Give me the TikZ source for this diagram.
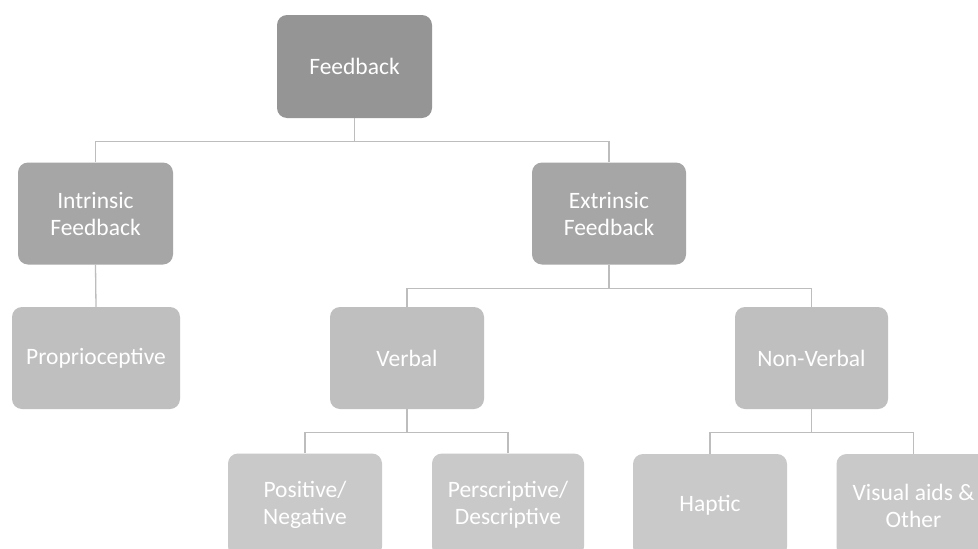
\documentclass[tikz,border=0pt]{standalone}
\usepackage{fontspec}
\setmainfont{Carlito}
\definecolor{greyA}{HTML}{959595}
\definecolor{greyB}{HTML}{A6A6A6}
\definecolor{greyC}{HTML}{BFBFBF}
\definecolor{greyD}{HTML}{C9C9C9}
\definecolor{linegrey}{HTML}{BDBDBD}
\begin{document}
\begin{tikzpicture}[x=1pt,y=-1pt,
    box/.style={rounded corners=10pt, text=white, align=center,
        minimum width=154pt, minimum height=102pt, inner sep=0pt,
        font=\fontsize{23.5}{27}\selectfont},
    conn/.style={draw=linegrey, line width=1.3pt}]
    % Frame
    \clip (0,0) rectangle (978,549);
    \fill[white] (0,0) rectangle (978,549);

    % Boxes
    \node[box, fill=greyA, minimum width=155pt, minimum height=103pt] (fb) at (354.5,66.5) {Feedback};
    \node[box, fill=greyB, minimum width=155pt] (intr) at (95.5,213.5) {Intrinsic\\Feedback};
    \node[box, fill=greyB] (extr) at (609,213.5) {Extrinsic\\Feedback};
    \node[box, fill=greyC, minimum width=168pt] (prop) at (96,358) {Proprioceptive};
    \node[box, fill=greyC] (verb) at (407,358) {Verbal};
    \node[box, fill=greyC, minimum width=153pt] (nonv) at (811.5,358) {Non-Verbal};
    \node[box, fill=greyD, minimum height=103pt] (posn) at (305,505) {Positive/\\Negative};
    \node[box, fill=greyD, minimum width=152pt, minimum height=103pt] (pres) at (508,505) {Perscriptive/\\Descriptive};
    \node[box, fill=greyD, minimum height=103pt] (hapt) at (710,505.5) {Haptic};
    \node[box, fill=greyD, minimum height=103pt] (visu) at (913.5,505.5) {Visual aids \&\\Other};

    % Connectors
    \draw[conn] (fb.south) -- ++(0,23) -| (intr.north);
    \draw[conn] (fb.south) -- ++(0,23) -| (extr.north);
    \draw[conn] (intr.south) -- (prop.north);
    \draw[conn] (extr.south) -- ++(0,24) -| (verb.north);
    \draw[conn] (extr.south) -- ++(0,24) -| (nonv.north);
    \draw[conn] (verb.south) -- ++(0,23) -| (posn.north);
    \draw[conn] (verb.south) -- ++(0,23) -| (pres.north);
    \draw[conn] (nonv.south) -- ++(0,23) -| (hapt.north);
    \draw[conn] (nonv.south) -- ++(0,23) -| (visu.north);
\end{tikzpicture}
\end{document}
